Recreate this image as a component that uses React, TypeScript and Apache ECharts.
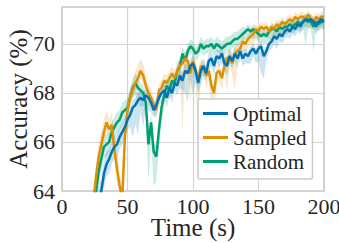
import React, { useEffect, useRef } from 'react';
import * as echarts from 'echarts';

const times = [
  20, 22, 24, 26, 28, 30, 32, 34, 36, 38,
  40, 42, 44, 46, 48, 50, 52, 54, 56, 58,
  60, 62, 64, 66, 68, 70, 72, 74, 76, 78,
  80, 82, 84, 86, 88, 90, 92, 94, 96, 98,
  100, 102, 104, 106, 108, 110, 112, 114, 116, 118,
  120, 122, 124, 126, 128, 130, 132, 134, 136, 138,
  140, 142, 144, 146, 148, 150, 152, 154, 156, 158,
  160, 162, 164, 166, 168, 170, 172, 174, 176, 178,
  180, 182, 184, 186, 188, 190, 192, 194, 196, 198,
  200,
];

const optimal = [
  61.5, 62.2, 62.8, 63.3, 63.7, 64.0, 64.7, 65.1, 65.3, 65.6,
  65.8, 65.9, 66.2, 66.4, 66.6, 66.9, 67.1, 67.4, 67.5, 67.7,
  67.8, 67.7, 67.9, 67.8, 67.6, 67.3, 67.5, 67.8, 68.0, 68.1,
  67.8, 68.2, 68.0, 68.4, 68.3, 68.7, 68.5, 68.9, 68.8, 69.1,
  69.2, 68.9, 68.4, 68.9, 69.1, 68.8, 69.3, 69.4, 69.1, 69.5,
  69.4, 69.6, 69.2, 69.1, 69.5, 69.3, 69.6, 69.4, 69.7, 69.4,
  69.6, 69.5, 69.7, 69.8, 69.6, 69.8, 69.9, 69.5, 69.7, 70.0,
  70.1, 70.3, 70.2, 70.4, 70.3, 70.5, 70.6, 70.5, 70.7, 70.6,
  70.8, 70.7, 70.9, 71.0, 70.9, 71.0, 70.9, 70.7, 70.9, 71.0,
  70.9,
];

const sampled = [
  62.0, 62.8, 63.6, 64.6, 65.4, 65.9, 66.4, 66.8, 66.5, 66.7,
  65.7, 64.9, 64.2, 63.7, 66.2, 67.3, 67.8, 68.1, 68.4, 68.6,
  68.9, 68.7, 68.3, 68.0, 67.8, 67.5, 67.3, 68.1, 68.2, 68.5,
  68.4, 68.6, 68.8, 68.6, 68.9, 69.1, 69.2, 69.4, 69.3, 68.8,
  69.3, 68.9, 68.5, 69.1, 69.0, 68.7, 68.9, 68.3, 68.0, 68.8,
  68.9, 68.6, 69.1, 69.4, 69.5, 69.2, 69.6, 69.7, 69.8, 70.1,
  70.0, 70.2, 70.3, 70.4, 70.6, 70.5, 70.7, 70.6, 70.7, 70.5,
  70.7, 70.6, 70.8, 70.7, 70.9, 70.8, 70.9, 71.0, 70.9, 71.1,
  71.0, 71.1, 71.1, 71.0, 71.2, 71.0, 70.9, 71.1, 71.0, 71.1,
  71.1,
];

const random = [
  62.0, 62.6, 63.3, 64.0, 64.8, 65.3, 65.8, 65.9, 66.0, 66.4,
  66.6, 66.8, 66.9, 67.2, 67.3, 67.4, 67.8, 68.2, 68.4, 68.2,
  68.1, 68.0, 67.6, 65.9, 66.8, 65.6, 65.4, 66.5, 67.4, 67.9,
  68.3, 68.1, 68.5, 68.4, 68.9, 69.1, 69.6, 69.3, 69.7, 69.9,
  69.8, 69.6, 69.7, 70.0, 69.8, 69.9, 69.9, 70.0, 69.8, 70.0,
  69.9, 69.8, 69.9, 70.0, 70.0, 70.1, 70.2, 70.2, 70.3, 70.4,
  70.5, 70.6, 70.5, 70.6, 70.5, 70.4, 70.3, 70.4, 70.3, 70.5,
  70.6, 70.6, 70.5, 70.7, 70.6, 70.7, 70.7, 70.8, 70.7, 70.8,
  70.9, 70.8, 70.9, 71.0, 71.0, 70.9, 70.7, 70.9, 70.8, 70.9,
  70.9,
];

// spread of the shaded band below / above each mean curve
const optimalDown = [
  0.5, 0.5, 0.5, 0.5, 0.5, 0.5, 0.6, 0.5, 0.6, 0.5,
  0.5, 0.6, 0.5, 0.5, 0.4, 0.4, 0.5, 1.2, 0.8, 1.4,
  0.6, 1.1, 0.4, 0.5, 0.4, 0.3, 0.4, 0.3, 0.4, 0.3,
  0.4, 0.3, 0.4, 0.3, 0.4, 0.5, 0.4, 0.9, 1.2, 0.5,
  1.3, 0.5, 0.4, 0.6, 0.4, 0.3, 0.4, 0.3, 0.4, 0.3,
  0.3, 0.4, 0.3, 0.4, 0.3, 0.3, 0.3, 0.4, 0.3, 0.3,
  0.4, 0.3, 0.5, 0.3, 0.4, 0.5, 1.1, 0.9, 0.4, 0.3,
  0.3, 0.3, 0.4, 0.3, 0.3, 0.3, 0.3, 0.3, 0.3, 0.3,
  0.3, 0.3, 0.3, 0.3, 0.3, 0.3, 0.3, 0.3, 0.3, 0.3,
  0.3,
];
const optimalUp = [
  0.5, 0.5, 0.5, 0.5, 0.5, 0.5, 0.5, 0.5, 0.4, 0.4,
  0.4, 0.4, 0.4, 0.4, 0.4, 0.3, 0.3, 0.3, 0.3, 0.3,
  0.3, 0.3, 0.3, 0.3, 0.3, 0.3, 0.3, 0.3, 0.3, 0.3,
  0.3, 0.3, 0.3, 0.3, 0.3, 0.3, 0.3, 0.3, 0.3, 0.3,
  0.3, 0.3, 0.3, 0.3, 0.3, 0.3, 0.3, 0.3, 0.3, 0.3,
  0.3, 0.3, 0.3, 0.3, 0.3, 0.3, 0.3, 0.3, 0.3, 0.3,
  0.2, 0.2, 0.2, 0.2, 0.2, 0.2, 0.2, 0.2, 0.2, 0.2,
  0.2, 0.2, 0.2, 0.2, 0.2, 0.2, 0.2, 0.2, 0.2, 0.2,
  0.2, 0.2, 0.2, 0.2, 0.2, 0.2, 0.2, 0.2, 0.2, 0.2,
  0.2,
];
const sampledDown = [
  0.6, 0.6, 0.6, 0.5, 0.5, 0.4, 0.4, 0.4, 0.5, 0.4,
  0.5, 0.6, 0.6, 0.5, 0.6, 0.4, 0.3, 0.3, 0.4, 0.3,
  0.3, 0.4, 0.3, 0.5, 0.4, 0.3, 0.4, 0.5, 0.3, 0.4,
  0.3, 0.4, 0.5, 0.3, 0.4, 0.5, 2.8, 0.6, 0.4, 1.2,
  0.4, 0.5, 2.1, 0.5, 0.3, 0.5, 0.4, 0.8, 0.6, 0.5,
  0.4, 0.5, 0.3, 1.4, 0.4, 0.5, 1.5, 0.4, 0.3, 0.4,
  0.3, 0.4, 0.3, 0.5, 0.3, 0.4, 0.3, 0.3, 0.4, 0.3,
  0.3, 0.4, 0.3, 0.3, 0.4, 0.3, 0.3, 0.4, 0.3, 0.3,
  0.3, 0.4, 0.3, 0.3, 0.3, 0.4, 0.3, 0.3, 0.3, 0.3,
  0.3,
];
const sampledUp = [
  0.5, 0.5, 0.5, 0.5, 0.5, 0.5, 0.5, 0.5, 0.4, 0.5,
  0.6, 0.6, 0.5, 0.5, 0.6, 0.4, 0.4, 0.4, 0.5, 0.5,
  0.5, 0.5, 0.4, 0.4, 0.3, 0.3, 0.3, 0.3, 0.3, 0.3,
  0.3, 0.3, 0.3, 0.3, 0.3, 0.3, 0.3, 0.3, 0.3, 0.3,
  0.3, 0.3, 0.4, 0.3, 0.3, 0.3, 0.3, 0.4, 0.3, 0.3,
  0.3, 0.3, 0.3, 0.3, 0.3, 0.3, 0.3, 0.3, 0.3, 0.3,
  0.2, 0.2, 0.2, 0.2, 0.2, 0.2, 0.2, 0.2, 0.2, 0.2,
  0.2, 0.2, 0.2, 0.2, 0.2, 0.2, 0.2, 0.2, 0.2, 0.2,
  0.2, 0.2, 0.2, 0.2, 0.2, 0.2, 0.2, 0.2, 0.2, 0.2,
  0.2,
];
const randomDown = [
  0.6, 0.6, 0.6, 0.6, 0.6, 0.5, 0.5, 0.5, 0.4, 0.5,
  0.4, 0.5, 0.4, 0.5, 0.4, 0.4, 0.4, 0.4, 0.5, 0.6,
  0.7, 0.5, 0.6, 1.5, 0.8, 1.4, 1.0, 0.8, 0.6, 0.5,
  0.4, 0.4, 0.4, 0.3, 0.4, 0.4, 0.3, 0.4, 0.3, 0.3,
  0.4, 0.3, 0.3, 0.3, 0.3, 0.3, 0.3, 0.3, 0.3, 0.3,
  0.3, 0.3, 0.4, 0.3, 0.3, 0.3, 0.3, 0.3, 0.3, 0.3,
  0.3, 0.3, 0.3, 0.4, 0.3, 0.3, 0.3, 0.4, 0.3, 0.3,
  0.4, 0.3, 0.3, 0.3, 0.3, 0.3, 0.3, 0.3, 0.3, 0.3,
  0.3, 0.3, 0.3, 1.1, 0.3, 0.3, 1.0, 0.3, 0.3, 0.3,
  0.3,
];
const randomUp = [
  0.5, 0.5, 0.5, 0.5, 0.5, 0.5, 0.5, 0.4, 0.4, 0.4,
  0.4, 0.4, 0.4, 0.4, 0.4, 0.4, 0.4, 0.4, 0.4, 0.4,
  0.3, 0.3, 0.3, 0.4, 0.4, 0.4, 0.4, 0.3, 0.3, 0.3,
  0.3, 0.3, 0.3, 0.3, 0.3, 0.3, 0.3, 0.3, 0.3, 0.3,
  0.3, 0.3, 0.3, 0.3, 0.3, 0.3, 0.3, 0.3, 0.3, 0.3,
  0.3, 0.3, 0.3, 0.3, 0.3, 0.3, 0.3, 0.3, 0.3, 0.3,
  0.2, 0.2, 0.2, 0.2, 0.2, 0.2, 0.2, 0.2, 0.2, 0.2,
  0.2, 0.2, 0.2, 0.2, 0.2, 0.2, 0.2, 0.2, 0.2, 0.2,
  0.2, 0.2, 0.2, 0.2, 0.2, 0.2, 0.2, 0.2, 0.2, 0.2,
  0.2,
];

const xTicks = [0, 50, 100, 150, 200];
const yTicks = [64, 66, 68, 70];
const seriesNames = ['Optimal', 'Sampled', 'Random'];

const Y_MIN = 64;
const Y_MAX = 71.5;
const FONT = 'Liberation Serif, Times New Roman, serif';
const TEXT = '#262626';

const COLORS: Record<string, string> = {
  Optimal: '#0173B2',
  Sampled: '#DE8F05',
  Random: '#029E73',
};
const BAND_COLORS: Record<string, string> = {
  Optimal: 'rgba(1,115,178,0.2)',
  Sampled: 'rgba(222,143,5,0.2)',
  Random: 'rgba(2,158,115,0.2)',
};

function bandSeries(name: string, mean: number[], down: number[], up: number[]) {
  const lo = mean.map((v, i) => v - down[i]);
  const hi = mean.map((v, i) => v + up[i]);
  return {
    type: 'custom',
    name: name + ' band',
    silent: true,
    z: 1,
    data: times.map((t, i) => [t, lo[i], hi[i]]),
    encode: { x: 0, y: [1, 2] },
    renderItem: (params: any, api: any) => {
      if (params.dataIndex !== 0) return null;
      const pts: number[][] = [];
      for (let i = 0; i < times.length; i++) {
        pts.push(api.coord([times[i], Math.min(Y_MAX, Math.max(Y_MIN, lo[i]))]));
      }
      for (let i = times.length - 1; i >= 0; i--) {
        pts.push(api.coord([times[i], Math.min(Y_MAX, Math.max(Y_MIN, hi[i]))]));
      }
      return {
        type: 'polygon',
        shape: { points: pts },
        style: { fill: BAND_COLORS[name], stroke: null },
      };
    },
  };
}

function lineSeries(name: string, mean: number[], z: number) {
  return {
    type: 'line',
    name,
    data: times.map((t, i) => [t, mean[i]]),
    symbol: 'none',
    showSymbol: false,
    clip: true,
    z,
    lineStyle: { color: COLORS[name], width: 2.5 },
    itemStyle: { color: COLORS[name] },
  };
}

export default function App() {
  const ref = useRef<HTMLDivElement>(null);
  useEffect(() => {
    if (!ref.current) return;
    const chart = echarts.init(ref.current, null, { renderer: 'svg' });
    chart.setOption({
      animation: false,
      backgroundColor: '#ffffff',
      textStyle: { fontFamily: FONT },
      grid: {
        left: 62,
        right: 15,
        top: 7,
        bottom: 52,
        show: true,
        containLabel: false,
        outerBoundsMode: 'none',
        borderColor: '#c4c4c4',
        borderWidth: 1.6,
        backgroundColor: 'transparent',
      },
      legend: {
        data: seriesNames,
        orient: 'vertical',
        left: 198,
        top: 99,
        itemWidth: 25,
        itemHeight: 3,
        itemGap: 3,
        padding: [4, 6, 7, 5],
        backgroundColor: 'rgba(255,255,255,0.85)',
        borderColor: '#cccccc',
        borderWidth: 1.5,
        borderRadius: 2,
        icon: 'rect',
        textStyle: { fontFamily: FONT, fontSize: 21, color: TEXT, fontWeight: 'normal' },
      },
      xAxis: {
        type: 'value',
        min: xTicks[0],
        max: xTicks[xTicks.length - 1],
        interval: xTicks[1] - xTicks[0],
        name: 'Time (s)',
        nameLocation: 'middle',
        nameGap: 26,
        nameMoveOverlap: false,
        nameTextStyle: { fontFamily: FONT, fontSize: 25, lineHeight: 20, color: TEXT },
        axisLine: { show: false },
        axisTick: { show: false },
        axisLabel: { fontFamily: FONT, fontSize: 22, lineHeight: 18, color: TEXT, margin: 6 },
        splitLine: { show: true, lineStyle: { color: '#d4d4d4', width: 1.2 } },
      },
      yAxis: {
        type: 'value',
        min: Y_MIN,
        max: Y_MAX,
        interval: yTicks[1] - yTicks[0],
        name: 'Accuracy (%)',
        nameLocation: 'middle',
        nameGap: 31,
        nameMoveOverlap: false,
        nameTextStyle: { fontFamily: FONT, fontSize: 25, color: TEXT },
        axisLine: { show: false },
        axisTick: { show: false },
        axisLabel: {
          fontFamily: FONT,
          fontSize: 22,
          color: TEXT,
          margin: 7,
          showMaxLabel: false,
        },
        splitLine: { show: true, lineStyle: { color: '#d4d4d4', width: 1.2 } },
      },
      series: [
        bandSeries('Random', random, randomDown, randomUp),
        bandSeries('Sampled', sampled, sampledDown, sampledUp),
        bandSeries('Optimal', optimal, optimalDown, optimalUp),
        lineSeries('Random', random, 3),
        lineSeries('Sampled', sampled, 4),
        lineSeries('Optimal', optimal, 5),
      ],
    });
    return () => chart.dispose();
  }, []);
  return (
    <div
      ref={ref}
      style={{ position: 'fixed', left: 0, top: 0, width: 339, height: 243 }}
    />
  );
}
